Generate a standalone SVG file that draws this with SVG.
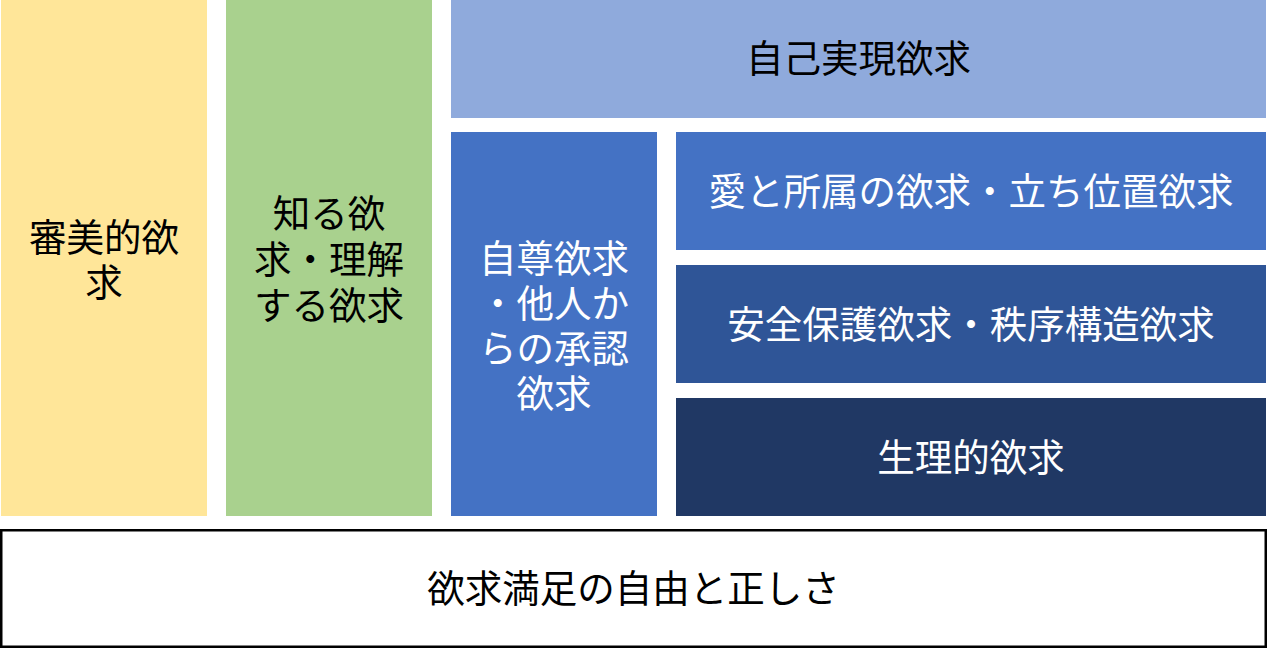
<svg xmlns="http://www.w3.org/2000/svg" width="1267" height="649" viewBox="0 0 1267 649">
<style>
text{font-family:"Noto Sans CJK JP","Noto Sans CJK SC",sans-serif;font-size:37.5px;text-anchor:middle;dominant-baseline:central}
.d{fill:#000}
.w{fill:#fff}
</style>
<rect x="0" y="0" width="1267" height="649" fill="#fff"/>
<g id="aesthetic">
<rect x="1" y="0" width="206" height="516" fill="#FFE699"/>
<text class="d"><tspan x="104" y="234">審美的欲</tspan><tspan x="104" y="279">求</tspan></text>
</g>
<g id="cognitive">
<rect x="226" y="0" width="206" height="516" fill="#A9D18E"/>
<text class="d"><tspan x="329" y="210">知る欲</tspan><tspan x="329" y="256">求・理解</tspan><tspan x="329" y="302">する欲求</tspan></text>
</g>
<g id="self-actualization">
<rect x="451" y="0" width="815" height="118" fill="#8FAADC"/>
<text class="d" x="858.5" y="55.5">自己実現欲求</text>
</g>
<g id="esteem">
<rect x="451" y="132" width="206" height="384" fill="#4472C4"/>
<text class="w"><tspan x="554" y="254.5">自尊欲求</tspan><tspan x="554" y="299.5">・他人か</tspan><tspan x="554" y="344.5">らの承認</tspan><tspan x="554" y="389.5">欲求</tspan></text>
</g>
<g id="belonging">
<rect x="676" y="132" width="590" height="118" fill="#4472C4"/>
<text class="w" x="971" y="188">愛と所属の欲求・立ち位置欲求</text>
</g>
<g id="safety">
<rect x="676" y="265" width="590" height="118" fill="#2F5597"/>
<text class="w" x="971" y="321">安全保護欲求・秩序構造欲求</text>
</g>
<g id="physiological">
<rect x="676" y="398" width="590" height="118" fill="#203864"/>
<text class="w" x="971" y="454">生理的欲求</text>
</g>
<g id="freedom">
<rect x="1.25" y="530.25" width="1264.5" height="116.5" fill="#fff" stroke="#000" stroke-width="2.5"/>
<text class="d" x="633.5" y="585">欲求満足の自由と正しさ</text>
</g>
<g id="connectors"></g>
</svg>
